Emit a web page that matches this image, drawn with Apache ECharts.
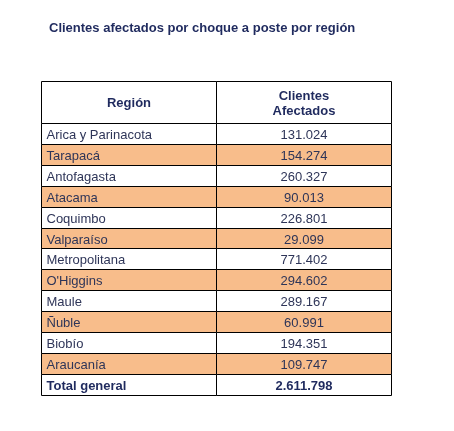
<!DOCTYPE html>
<html><head><meta charset="utf-8">
<script src="https://cdn.jsdelivr.net/npm/echarts@6/dist/echarts.min.js"></script>
<style>html,body{margin:0;padding:0;background:#fff}#c{width:454px;height:431px}</style>
</head><body><div id="c"></div>
<script>
const title = 'Clientes afectados por choque a poste por región';
const headers = ['Región', 'Clientes\nAfectados'];
const regions = ['Arica y Parinacota','Tarapacá','Antofagasta','Atacama','Coquimbo','Valparaíso','Metropolitana',"O'Higgins",'Maule','Ñuble','Biobío','Araucanía'];
const values = ['131.024','154.274','260.327','90.013','226.801','29.099','771.402','294.602','289.167','60.991','194.351','109.747'];
const totalLabel = 'Total general';
const totalValue = '2.611.798';

const rows = [];
rows.push({y0:0, y1:2, cells:headers, kind:'header'});
regions.forEach((r,i)=>rows.push({y0:2+i, y1:3+i, cells:[r, values[i]], kind: i%2 ? 'odd':'even'}));
rows.push({y0:14, y1:15, cells:[totalLabel, totalValue], kind:'total'});

const navy = '#1f2a5e';
const chart = echarts.init(document.getElementById('c'));
chart.setOption({
  animation:false,
  title:{text:title, left:44, top:17, textStyle:{fontFamily:'Liberation Sans, Arial', fontSize:13, fontWeight:'bold', color:navy}},
  grid:{left:41, top:81, width:349, height:314},
  xAxis:{type:'value', min:0, max:2, show:false},
  yAxis:{type:'value', min:0, max:15, inverse:true, show:false},
  series:[{
    type:'custom',
    data: rows.map((r,i)=>[i]),
    renderItem:(params, api)=>{
      const r = rows[api.value(0)];
      const children = [];
      for (let c=0;c<2;c++){
        const p0 = api.coord([c, r.y0]), p1 = api.coord([c+1, r.y1]);
        const x=Math.round(p0[0])+0.5, y=Math.round(p0[1])+0.5, w=Math.round(p1[0]-p0[0]), h=Math.round(p1[1]-p0[1]);
        const fill = r.kind==='odd' ? '#f8bd8b' : '#ffffff';
        children.push({type:'rect', shape:{x, y, width:w, height:h}, style:{fill, stroke:'#000', lineWidth:1}});
        const bold = r.kind==='header'||r.kind==='total';
        const left = c===0 && r.kind!=='header';
        children.push({type:'text', style:{
          text:r.cells[c], x: left ? x+5 : x+w/2, y: y+h/2+1,
          align: left?'left':'center', verticalAlign:'middle',
          font:(bold?'bold ':'')+'13px "Liberation Sans", Arial',
          lineHeight:15,
          fill: bold ? navy : '#2e3558'
        }});
      }
      return {type:'group', children};
    }
  }]
});
</script></body></html>
